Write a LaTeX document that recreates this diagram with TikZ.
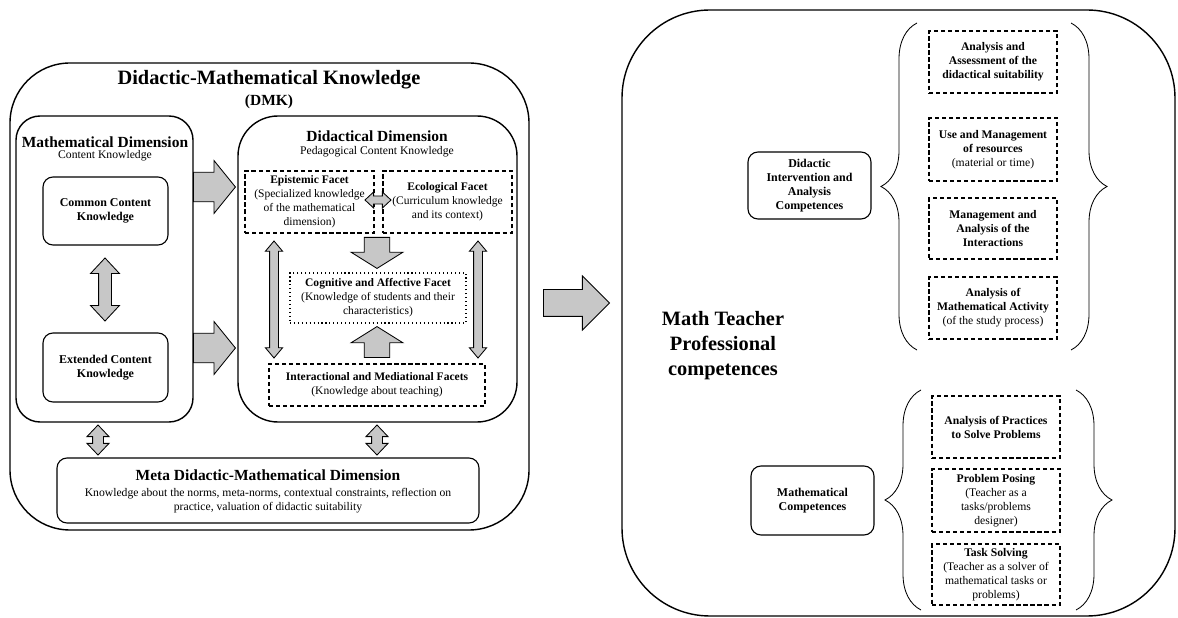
\documentclass[tikz,border=0pt]{standalone}
\usepackage{fontspec}
\setmainfont{Liberation Serif}
\usetikzlibrary{shapes.arrows,fit,decorations.pathreplacing}

\definecolor{arrowgray}{gray}{0.78}

\tikzset{
	panel/.style={draw, line width=1pt, inner sep=0pt},
	card/.style={draw, line width=0.8pt, rounded corners=2.5mm, inner sep=0pt, align=center, font=\bfseries\fontsize{8.5}{10}\selectfont, execute at begin node={\rule{0pt}{1.1em}}},
	facet/.style={draw, line width=0.8pt, dash pattern=on 3pt off 2pt, inner sep=0pt, align=center, font=\fontsize{8.2}{10}\selectfont, execute at begin node={\rule{0pt}{1.1em}}},
	task/.style={facet, minimum width=32mm, font=\bfseries\fontsize{8.3}{10}\selectfont},
	bigtitle/.style={font=\bfseries\fontsize{14.5}{17.8}\selectfont, align=center},
	dimtitle/.style={font=\bfseries\fontsize{11}{13}\selectfont},
	subtitle/.style={font=\fontsize{8.3}{10}\selectfont, align=center},
	blockarrow/.style={single arrow, draw, fill=arrowgray, line width=0.6pt, inner xsep=0pt},
	twoway/.style={double arrow, draw, fill=arrowgray, line width=0.6pt, inner xsep=0pt},
	curly/.style={decorate, decoration={brace, amplitude=9mm}, line width=0.6pt},
}

\begin{document}
\begin{tikzpicture}[x=0.25mm, y=-0.25mm]
		\useasboundingbox (0,0) rectangle (1178,618);
		
		% Coordinates
		\coordinate (arrMDup) at (193,187);
		\coordinate (arrMDlow) at (193,348);
		\coordinate (arrMain) at (543,303);
		\coordinate (arrDown) at (377,237);
		\coordinate (arrUp) at (377,358);
		
		\coordinate (dblCE) at (105,289.5);
		\coordinate (dblEE) at (378,200);
		\coordinate (dblL) at (274,299.5);
		\coordinate (dblR) at (478,299.5);
		\coordinate (dblMetaL) at (98,440);
		\coordinate (dblMetaR) at (377,440);
		
		% Didactic-Mathematical Knowledge
		\node[panel, rounded corners=15mm, fit={(10,63) (529,530)}] (dmk) {};
		\node[bigtitle] (dmktitle) at (269,80) {Didactic-Mathematical Knowledge};
		\node[dimtitle] (dmkabbr) at (269,102) {(DMK)};
		
		% Mathematical dimension
		\node[panel, rounded corners=6mm, fit={(16,116) (193,422)}] (mathdim) {};
		\node[dimtitle] (mathdimtitle) at (105,142) {Mathematical Dimension};
		\node[subtitle] (mathdimsub) at (105,156) {Content Knowledge};
		\node[card, minimum width=31.25mm, minimum height=17mm] (common) at (105.5,211) {Common Content\\Knowledge};
		\node[card, minimum width=31.25mm, minimum height=17.25mm] (extended) at (105.5,367.5) {Extended Content\\Knowledge};
		
		% Didactical dimension
		\node[panel, rounded corners=10mm, fit={(238,116) (517,422)}] (diddim) {};
		\node[dimtitle] (diddimtitle) at (377,136) {Didactical Dimension};
		\node[subtitle] (diddimsub) at (377,152) {Pedagogical Content Knowledge};
		\node[facet, minimum width=32.25mm, minimum height=15.5mm] (epistemic) at (309.5,202) {\textbf{Epistemic Facet}\\(Specialized knowledge\\of the mathematical\\dimension)};
		\node[facet, minimum width=32.25mm, minimum height=15.5mm] (ecological) at (447.5,202) {\textbf{Ecological Facet}\\(Curriculum knowledge\\and its context)};
		\node[facet, dotted, minimum width=44mm, minimum height=12.5mm] (cognitive) at (378,298) {\textbf{Cognitive and Affective Facet}\\(Knowledge of students and their\\characteristics)};
		\node[facet, minimum width=54mm, minimum height=10.5mm] (interactional) at (377,385) {\textbf{Interactional and Mediational Facets}\\(Knowledge about teaching)};
		
		% Meta dimension
		\node[panel, line width=0.8pt, rounded corners=2.5mm, fit={(57,458) (479,523)}] (meta) {};
		\node[dimtitle] (metatitle) at (268,475) {Meta Didactic-Mathematical Dimension};
		\node[subtitle] (metatext) at (268,501) {Knowledge about the norms, meta-norms, contextual constraints, reflection on\\practice, valuation of didactic suitability};
		
		% Fat arrows
		\node[blockarrow, anchor=tail, minimum height=10.5mm, inner ysep=3.6mm, single arrow head extend=2.9mm, single arrow tip angle=102] (mdup) at (arrMDup) {};
		\node[blockarrow, anchor=tail, minimum height=10.5mm, inner ysep=3.6mm, single arrow head extend=2.9mm, single arrow tip angle=102] (mdlow) at (arrMDlow) {};
		\node[blockarrow, anchor=tail, rotate=-90, minimum height=7.75mm, inner ysep=3.1mm, single arrow head extend=3.25mm, single arrow tip angle=116] (down) at (arrDown) {};
		\node[blockarrow, anchor=tail, rotate=90, minimum height=7.75mm, inner ysep=3.1mm, single arrow head extend=3.25mm, single arrow tip angle=116] (up) at (arrUp) {};
		\node[blockarrow, anchor=tail, minimum height=16.5mm, inner ysep=3.25mm, single arrow head extend=3.4mm, single arrow tip angle=90] (main) at (arrMain) {};
		
		% Double arrows
		\node[twoway, rotate=90, minimum height=15.75mm, inner ysep=1.5mm, double arrow head extend=2mm, double arrow tip angle=86] (ce) at (dblCE) {};
		\node[twoway, minimum height=6.5mm, inner ysep=0.9mm, double arrow head extend=1mm, double arrow tip angle=86] (ee) at (dblEE) {};
		\node[twoway, rotate=90, minimum height=29.25mm, inner ysep=1mm, double arrow head extend=1.05mm, double arrow tip angle=80] (el) at (dblL) {};
		\node[twoway, rotate=90, minimum height=29.25mm, inner ysep=1mm, double arrow head extend=1.05mm, double arrow tip angle=80] (er) at (dblR) {};
		\node[twoway, rotate=90, minimum height=7.5mm, inner ysep=1.25mm, double arrow head extend=1.4mm, double arrow tip angle=87] (ml) at (dblMetaL) {};
		\node[twoway, rotate=90, minimum height=7.5mm, inner ysep=1.25mm, double arrow head extend=1.4mm, double arrow tip angle=87] (mr) at (dblMetaR) {};
		
		% Math teacher professional competences
		\node[panel, rounded corners=22mm, fit={(622,10) (1175,616)}] (mtpc) {};
		\node[bigtitle] (mtpctitle) at (723,346) {Math Teacher\\Professional\\competences};
		
		\node[card, minimum width=30.75mm, minimum height=16.75mm] (didint) at (809.5,185.5) {Didactic\\Intervention and\\Analysis\\Competences};
		\node[task, minimum height=15.5mm] (suitability) at (993,62) {Analysis and\\Assessment of the\\didactical suitability};
		\node[task, minimum height=15.75mm] (resources) at (993,149.5) {Use and Management\\of resources\\{\mdseries(material or time)}};
		\node[task, minimum height=15.25mm] (interactions) at (993,228.5) {Management and\\Analysis of the\\Interactions};
		\node[task, minimum height=15.5mm] (activity) at (993,308) {Analysis of\\Mathematical Activity\\{\mdseries(of the study process)}};
		\draw[curly] (917,350) -- (917,23);
		\draw[curly] (1071,23) -- (1071,350);
		
		\node[card, minimum width=30.75mm, minimum height=17.25mm] (mathcomp) at (812.5,500.5) {Mathematical\\Competences};
		\node[task, minimum height=15.5mm] (practices) at (996,427) {Analysis of Practices\\to Solve Problems};
		\node[task, minimum height=15.75mm] (posing) at (996,500.5) {Problem Posing\\{\mdseries(Teacher as a}\\{\mdseries tasks/problems}\\{\mdseries designer)}};
		\node[task, minimum height=15.25mm] (solving) at (996,574.5) {Task Solving\\{\mdseries(Teacher as a solver of}\\{\mdseries mathematical tasks or}\\{\mdseries problems)}};
		\draw[curly] (921,610) -- (921,390);
		\draw[curly] (1076,390) -- (1076,610);
	\end{tikzpicture}
\end{document}
